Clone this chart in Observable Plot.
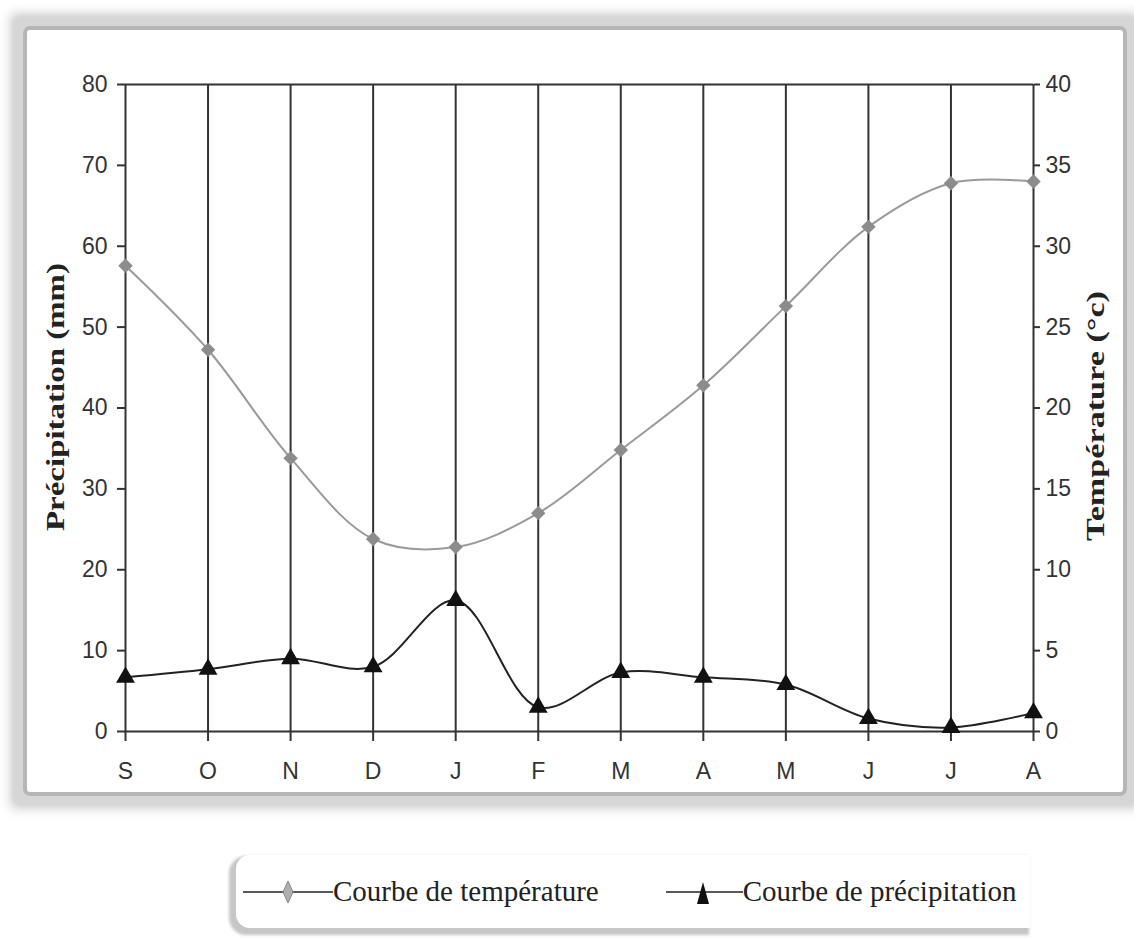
<!DOCTYPE html>
<html>
<head>
<meta charset="utf-8">
<script src="https://cdn.jsdelivr.net/npm/d3@7"></script>
<script src="https://cdn.jsdelivr.net/npm/@observablehq/plot@0.6"></script>
<style>
  html, body { margin: 0; padding: 0; background: #fff; }
  #wrap { position: relative; width: 1134px; height: 938px; overflow: hidden; }
  #frame {
    position: absolute; left: 27px; top: 30px; width: 1096px; height: 762px;
    background: #fff;
    box-shadow: 0 0 0 4px #b6b6b6, 0 0 4px 16px #d6d6d6, 0 0 8px 21px #ececec;
    border-radius: 3px;
  }
  #chart { position: absolute; left: 0; top: 0; }
  #legend {
    position: absolute; left: 236px; top: 855px; width: 794px; height: 73px;
    background: #fff;
    border-radius: 14px 0 0 14px;
    box-shadow: -4px 4px 3px 3px #c6c6c6;
    display: flex; align-items: center;
    font-family: "Liberation Serif", "Times New Roman", serif;
    font-size: 29px; color: #222;
  }
  .item { display: flex; align-items: center; }
  .item svg { display: block; }
</style>
</head>
<body>
<div id="wrap">
  <div id="frame"></div>
  <div id="chart"></div>
  <div id="legend">
    <div class="item" style="margin-left:7px">
      <svg width="90" height="30" viewBox="0 0 90 30">
        <line x1="0" y1="15" x2="90" y2="15" stroke="#222" stroke-width="1.5"/>
        <path d="M45,4 L50,15 L45,26 L40,15 Z" fill="#b0b0b0" stroke="#888" stroke-width="1"/>
      </svg>
      <span>Courbe de température</span>
    </div>
    <div class="item" style="margin-left:67px">
      <svg width="77" height="30" viewBox="0 0 77 30">
        <line x1="0" y1="15" x2="77" y2="15" stroke="#222" stroke-width="1.5"/>
        <path d="M37,5 L43,27 L31,27 Z" fill="#111"/>
      </svg>
      <span>Courbe de précipitation</span>
    </div>
  </div>
</div>
<script>
// ---- data ----
const months = ["S", "O", "N", "D", "J", "F", "M", "A", "M", "J", "J", "A"];
const temperature = [28.8, 23.6, 16.9, 11.9, 11.4, 13.5, 17.4, 21.4, 26.3, 31.2, 33.9, 34.0]; // °C
const precipitation = [6.7, 7.7, 9.0, 8.0, 16.2, 3.0, 7.3, 6.7, 5.8, 1.6, 0.5, 2.3]; // mm
const precipTicks = [0, 10, 20, 30, 40, 50, 60, 70, 80];
const tempTicks = [0, 5, 10, 15, 20, 25, 30, 35, 40];
const precipTitle = "Précipitation (mm)";
const tempTitle = "Température (°c)";

// temperature axis (0–40) shares the frame with precipitation axis (0–80)
const ratio = precipTicks[precipTicks.length - 1] / tempTicks[tempTicks.length - 1];

const idx = months.map((_, i) => i);
const rows = idx.map(i => ({i, t: temperature[i], p: precipitation[i]}));

const titleFont = {fontFamily: "'Liberation Serif', 'Times New Roman', serif", fontWeight: "bold", fontSize: 25, fill: "#222", textAnchor: "middle", rotate: -90};

const plot = Plot.plot({
  width: 1134,
  height: 800,
  marginLeft: 125,
  marginRight: 101,
  marginTop: 84,
  marginBottom: 69,
  style: {
    fontFamily: "'Liberation Sans Narrow', 'Arial Narrow', 'Liberation Sans', Arial, sans-serif",
    fontSize: "23px",
    color: "#333",
    background: "transparent",
    overflow: "visible"
  },
  x: {domain: [0, 11]},
  y: {domain: [0, 80]},
  marks: [
    Plot.gridX(idx, {stroke: "#333", strokeOpacity: 1, strokeWidth: 2}),
    Plot.ruleY([0, 80], {stroke: "#333", strokeWidth: 2}),
    Plot.axisX({ticks: idx, tickFormat: i => months[i], tickSize: 10, tickPadding: 21, strokeWidth: 2, label: null}),
    Plot.axisY({ticks: precipTicks, anchor: "left", tickSize: 8, tickPadding: 10, strokeWidth: 2, label: null}),
    Plot.axisY({ticks: tempTicks.map(t => t * ratio), anchor: "right", tickFormat: v => v / ratio, tickSize: 6, tickPadding: 6, strokeWidth: 2, label: null}),
    Plot.line(rows, {x: "i", y: d => d.t * ratio, curve: "catmull-rom", stroke: "#9a9a9a", strokeWidth: 2}),
    Plot.dot(rows, {x: "i", y: d => d.t * ratio, symbol: "diamond2", r: 6.5, fill: "#8c8c8c", stroke: "none"}),
    Plot.line(rows, {x: "i", y: "p", curve: "catmull-rom", stroke: "#222", strokeWidth: 2}),
    Plot.dot(rows, {x: "i", y: "p", symbol: "triangle", r: 7, fill: "#111", stroke: "none"}),
    Plot.text([precipTitle], {text: d => d, frameAnchor: "left", dx: -70, dy: -11, ...titleFont}),
    Plot.text([tempTitle], {text: d => d, frameAnchor: "right", dx: 62, dy: 8, ...titleFont})
  ]
});

d3.select(plot).selectAll("text")
  .filter(function() { return this.textContent === precipTitle; })
  .attr("textLength", 268).attr("lengthAdjust", "spacingAndGlyphs");
d3.select(plot).selectAll("text")
  .filter(function() { return this.textContent === tempTitle; })
  .attr("textLength", 250).attr("lengthAdjust", "spacingAndGlyphs");

document.getElementById("chart").appendChild(plot);
</script>
</body>
</html>
